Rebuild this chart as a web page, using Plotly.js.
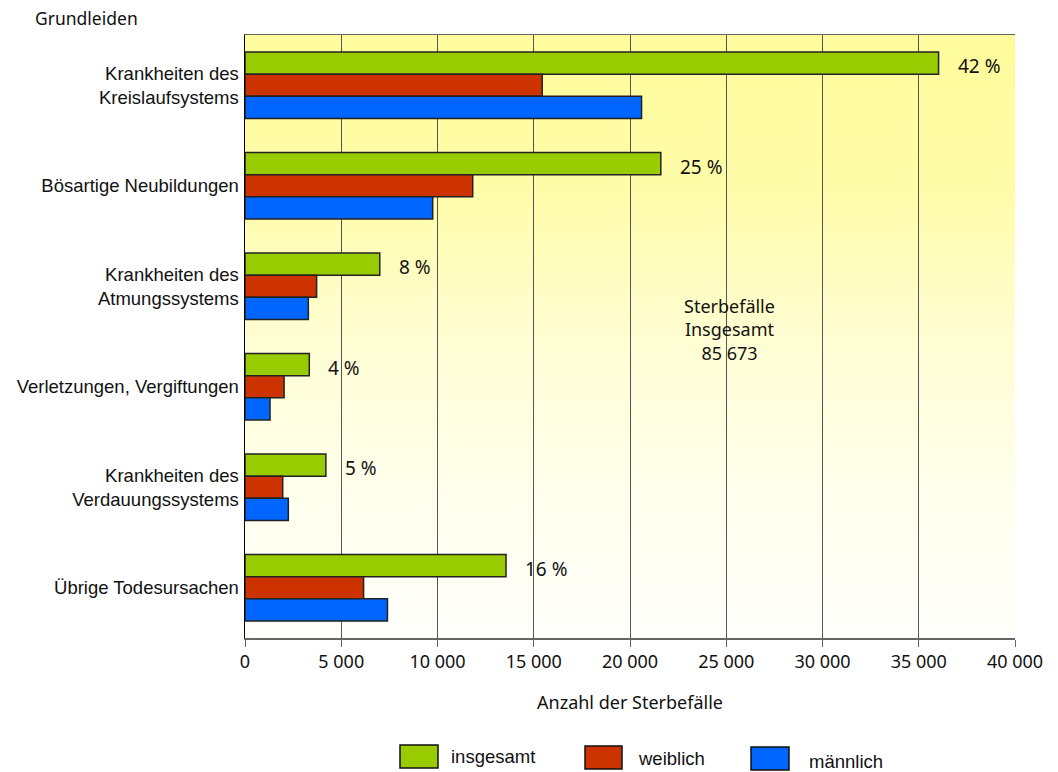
<!DOCTYPE html>
<html>
<head>
<meta charset="utf-8">
<script src="https://cdn.plot.ly/plotly-3.0.1.min.js"></script>
<style>
  html, body { margin: 0; padding: 0; background: #ffffff; }
  #chart { width: 1058px; height: 772px; }
</style>
</head>
<body>
<div id="chart"></div>
<script>
// ---- Data ----
const categories = [
  'Krankheiten des<br>Kreislaufsystems',
  'Bösartige Neubildungen',
  'Krankheiten des<br>Atmungssystems',
  'Verletzungen, Vergiftungen',
  'Krankheiten des<br>Verdauungssystems',
  'Übrige Todesursachen'
];
const seriesNames = ['insgesamt', 'weiblich', 'männlich'];
const insgesamt = [36030, 21600, 7000, 3340, 4200, 13560];
const weiblich  = [15440, 11830, 3720, 2030, 1960, 6160];
const maennlich = [20600, 9750, 3290, 1300, 2250, 7400];
const percentLabels = ['42 %', '25 %', '8 %', '4 %', '5 %', '16 %'];
const xTickVals = [0, 5000, 10000, 15000, 20000, 25000, 30000, 35000, 40000];
const totalLabel = 'Sterbefälle<br>Insgesamt<br>85 673';
const yAxisLabel = 'Grundleiden';
const xAxisLabel = 'Anzahl der Sterbefälle';

// ---- Styles ----
const colors = ['#99cc00', '#cc3300', '#0066ff'];
const W = 1058, H = 772;
const M = { l: 245, r: 43, t: 35, b: 134 };
const PW = W - M.l - M.r, PH = H - M.t - M.b;
const fx = px => (px - M.l) / PW;
const fy = py => (H - M.b - py) / PH;
const frut = 'Noto Sans, Open Sans, DejaVu Sans, sans-serif';
const arial = 'Liberation Sans, Arial, sans-serif';

// gradient background image
const cv = document.createElement('canvas');
cv.width = PW; cv.height = PH;
const ctx = cv.getContext('2d');
const g = ctx.createLinearGradient(0, 0, 0, PH);
g.addColorStop(0.0, '#fffc9c');
g.addColorStop(0.25, '#fffca8');
g.addColorStop(0.5, '#fffdd2');
g.addColorStop(0.75, '#ffffec');
g.addColorStop(1.0, '#fffffc');
ctx.fillStyle = g;
ctx.fillRect(0, 0, PW, PH);
const bgURL = cv.toDataURL('image/png');

const seriesValues = [insgesamt, weiblich, maennlich];
const traces = seriesValues.map((vals, i) => ({
  type: 'bar',
  orientation: 'h',
  name: seriesNames[i],
  y: categories,
  x: vals,
  marker: { color: colors[i], line: { color: '#222', width: 1.5 } },
  hoverinfo: 'x+name'
}));

const annotations = categories.map((c, i) => ({
  x: insgesamt[i], y: c, xref: 'x', yref: 'y',
  text: percentLabels[i], showarrow: false,
  xanchor: 'left', yanchor: 'middle', xshift: 17, yshift: 19,
  font: { family: frut, size: 19, color: '#111' }
}));
annotations.push({
  x: fx(729), y: fy(329), xref: 'paper', yref: 'paper',
  text: totalLabel, showarrow: false, xanchor: 'center', yanchor: 'middle',
  font: { family: frut, size: 18, color: '#111' }
});
annotations.push({
  x: fx(33), y: fy(18), xref: 'paper', yref: 'paper',
  text: yAxisLabel, showarrow: false, xanchor: 'left', yanchor: 'middle',
  font: { family: frut, size: 17.5, color: '#111' }
});

// custom legend
const legendBoxes = [[400, 438], [585, 622], [751, 789]];
const legendTextX = [449, 636, 807];
const legendTextY = [756, 758, 761];
const shapes = [];
seriesNames.forEach((n, i) => {
  shapes.push({
    type: 'rect', xref: 'paper', yref: 'paper',
    x0: fx(legendBoxes[i][0]), x1: fx(legendBoxes[i][1]),
    y0: fy(745 + i), y1: fy(768 + i),
    fillcolor: colors[i], line: { color: '#111', width: 1.5 }
  });
  annotations.push({
    x: fx(legendTextX[i]), y: fy(legendTextY[i]), xref: 'paper', yref: 'paper',
    text: n, showarrow: false, xanchor: 'left', yanchor: 'middle',
    font: { family: arial, size: 18.5, color: '#111' }
  });
});

const layout = {
  width: W, height: H,
  margin: M,
  paper_bgcolor: '#ffffff',
  plot_bgcolor: 'rgba(0,0,0,0)',
  separators: ', ',
  barmode: 'group',
  bargap: 0.34,
  bargroupgap: 0,
  showlegend: false,
  images: [{
    source: bgURL, xref: 'paper', yref: 'paper',
    x: 0, y: 1, sizex: 1, sizey: 1, sizing: 'stretch',
    xanchor: 'left', yanchor: 'top', layer: 'below'
  }],
  xaxis: {
    range: [0, 40000],
    tickvals: xTickVals,
    tickformat: ',d',
    separatethousands: true,
    showgrid: true, gridcolor: '#555', gridwidth: 1,
    zeroline: false,
    showline: true, linecolor: '#666', linewidth: 1.5, mirror: true,
    ticks: 'outside', ticklen: 7, tickcolor: '#666', tickwidth: 1,
    tickfont: { family: frut, size: 18, color: '#111' },
    title: { text: xAxisLabel, standoff: 24, font: { family: frut, size: 18, color: '#111' } },
    fixedrange: true
  },
  yaxis: {
    type: 'category',
    range: [5.5, -0.5],
    showgrid: false, zeroline: false,
    showline: true, linecolor: '#000', linewidth: 1.5,
    ticks: '',
    ticklabelstandoff: 1,
    tickfont: { family: arial, size: 18.5, color: '#111' },
    fixedrange: true
  },
  annotations: annotations,
  shapes: shapes
};

Plotly.newPlot('chart', traces, layout, { displayModeBar: false, staticPlot: true });
</script>
</body>
</html>
